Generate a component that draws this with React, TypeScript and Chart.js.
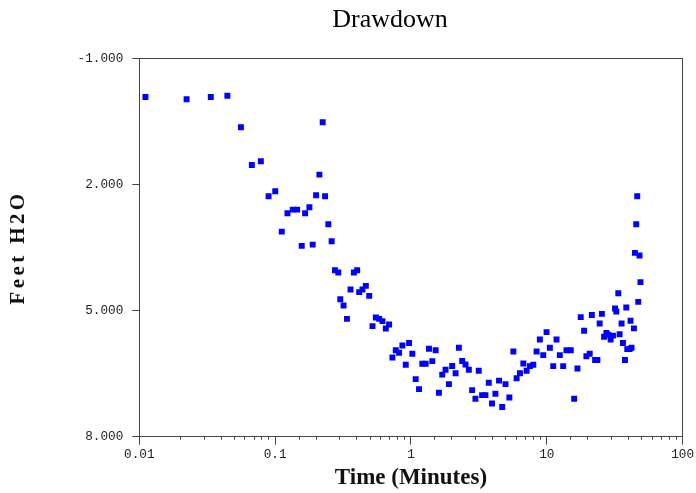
import React, { useEffect, useRef } from 'react';
import { Chart, registerables, LinearScale } from 'chart.js';

// ---- data ----
const chartTitle = 'Drawdown';
const xAxisTitle = 'Time (Minutes)';
const yAxisTitle = 'Feet H2O';

const xTickValues = [0.01, 0.1, 1, 10, 100];
const xTickLabels = ['0.01', '0.1', '1', '10', '100'];
const yTickValues = [-1, 2, 5, 8];
const yTickLabels = ['-1.000', '2.000', '5.000', '8.000'];

const timeMinutes = [
  0.0111, 0.0223, 0.0336, 0.0445, 0.056, 0.0674, 0.0785, 0.0895, 0.1002, 0.1119,
  0.1233, 0.1349, 0.1453, 0.157, 0.1663, 0.1788, 0.1891, 0.2003, 0.2118, 0.224,
  0.2333, 0.2466, 0.2608, 0.276, 0.2919, 0.302, 0.3192, 0.338, 0.3591, 0.38,
  0.4018, 0.4157, 0.4396, 0.4656, 0.4929, 0.5212, 0.5516, 0.5834, 0.617, 0.6531,
  0.6907, 0.7305, 0.7734, 0.818, 0.8651, 0.916, 0.9689, 1.024, 1.084, 1.147,
  1.212, 1.284, 1.358, 1.436, 1.52, 1.607, 1.7, 1.799, 1.904, 2.013,
  2.132, 2.254, 2.384, 2.523, 2.668, 2.821, 2.985, 3.156, 3.341, 3.537,
  3.741, 3.954, 4.188, 4.453, 4.698, 4.968, 5.305, 5.677, 5.999, 6.347,
  6.724, 7.109, 7.516, 7.961, 8.416, 8.897, 9.424, 9.966, 10.54, 11.16,
  11.8, 12.48, 13.21, 13.97, 15.03, 15.92, 16.83, 17.79, 18.84, 19.58,
  20.71, 21.48, 22.69, 23.59, 24.53, 25.46, 26.43, 27.48, 28.41, 29.53,
  30.73, 31.81, 32.51, 33.64, 34.39, 35.56, 36.39, 37.65, 38.5, 39.16,
  40.71, 41.4, 42.1, 43.85, 44.57, 45.59, 46.37, 47.17, 48.19, 48.98,
];

const drawdownFeet = [
  -0.08, -0.025, -0.08, -0.111, 0.64, 1.536, 1.448, 2.28, 2.161, 3.122,
  2.684, 2.599, 2.599, 3.462, 2.684, 2.542, 3.431, 2.256, 1.767, 0.521,
  2.28, 2.946, 3.35, 4.039, 4.096, 4.729, 4.881, 5.197, 4.5, 4.096,
  4.039, 4.562, 4.5, 4.413, 4.65, 5.37, 5.166, 5.197, 5.251, 5.427,
  5.332, 6.117, 5.946, 6.005, 5.832, 6.29, 5.772, 6.029, 6.63, 6.868,
  6.266, 6.266, 5.91, 6.202, 5.946, 6.956, 6.523, 6.409, 6.749, 6.319,
  6.492, 5.886, 6.2, 6.285, 6.409, 6.892, 7.098, 6.433, 7.011, 7.011,
  6.718, 7.212, 6.979, 6.666, 7.293, 6.749, 7.068, 5.974, 6.611, 6.492,
  6.259, 6.433, 6.321, 6.29, 5.974, 5.689, 6.06, 5.513, 5.886, 6.321,
  5.689, 6.06, 6.321, 5.946, 5.946, 7.098, 6.378, 5.156, 5.482, 6.088,
  6.029, 5.106, 6.176, 6.176, 5.309, 5.078, 5.625, 5.534, 5.577, 5.687,
  5.596, 4.952, 5.023, 4.586, 5.565, 5.309, 5.772, 6.176, 4.928, 5.917,
  5.917, 5.244, 5.886, 5.423, 3.628, 2.946, 2.28, 4.793, 3.692, 4.324,
];

// ---- styling ----
const W = 696;
const H = 493;
const TITLE_CENTER_X = 390;
const TITLE_BASELINE_Y = 27;
const AXIS_COLOR = '#444';
const TICK_FONT = { family: '"Liberation Mono", "Courier New", monospace', size: 12.7 };
const Y_TITLE_SPACING = '3.4px';

class SpacedTitleLinearScale extends LinearScale {
  static id = 'spacedTitleLinear';
  drawTitle() {
    const ctx = (this as any).ctx as CanvasRenderingContext2D & { letterSpacing?: string };
    const prev = ctx.letterSpacing;
    ctx.letterSpacing = Y_TITLE_SPACING;
    super.drawTitle();
    ctx.letterSpacing = prev ?? '0px';
  }
}

Chart.register(...registerables, SpacedTitleLinearScale as any);

const align = (v: number) => Math.round(v - 0.5) + 0.5;

const framePlugin = {
  id: 'plotFrame',
  beforeDatasetsDraw(chart: any) {
    const { ctx, chartArea } = chart;
    const l = align(chartArea.left);
    const r = align(chartArea.right);
    const t = align(chartArea.top);
    const b = align(chartArea.bottom);
    ctx.save();
    ctx.strokeStyle = AXIS_COLOR;
    ctx.lineWidth = 1;
    ctx.strokeRect(l, t, r - l, b - t);
    ctx.restore();
  },
};

const titlePlugin = {
  id: 'drawdownTitle',
  afterDraw(chart: any) {
    const ctx = chart.ctx;
    ctx.save();
    ctx.font = '26px "Liberation Serif", "Times New Roman", serif';
    ctx.fillStyle = '#000';
    ctx.textAlign = 'center';
    ctx.textBaseline = 'alphabetic';
    ctx.fillText(chartTitle, TITLE_CENTER_X, TITLE_BASELINE_Y);
    ctx.restore();
  },
};

export default function App() {
  const canvasRef = useRef<HTMLCanvasElement | null>(null);

  useEffect(() => {
    if (!canvasRef.current) return;
    const points = timeMinutes.map((t, i) => ({ x: t, y: drawdownFeet[i] }));
    const chart = new Chart(canvasRef.current, {
      type: 'scatter',
      data: {
        datasets: [
          {
            label: yAxisTitle,
            data: points,
            xAxisID: 'x',
            yAxisID: 'y',
            pointStyle: 'rect',
            pointRadius: 4.2,
            pointHoverRadius: 4.2,
            backgroundColor: '#0000ff',
            borderColor: '#0000ff',
            borderWidth: 0,
          },
        ],
      },
      options: {
        responsive: false,
        maintainAspectRatio: false,
        animation: false,
        events: [],
        layout: {
          autoPadding: false,
          padding: { left: 0, right: 11.7, top: 58.3, bottom: 0 },
        },
        plugins: {
          legend: { display: false },
          tooltip: { enabled: false },
          title: { display: false },
        },
        scales: {
          x: {
            type: 'logarithmic',
            position: 'bottom',
            min: 0.01,
            max: 100,
            weight: 1,
            afterBuildTicks: (s: any) => {
              s.ticks = xTickValues.map((v) => ({ value: v, major: true }));
            },
            afterFit: (s: any) => {
              s.height = 56.3;
            },
            grid: {
              display: true,
              drawOnChartArea: false,
              drawTicks: true,
              tickLength: 8,
              tickColor: AXIS_COLOR,
              tickWidth: 1,
            },
            border: { display: false },
            ticks: {
              font: TICK_FONT,
              color: '#222',
              padding: 2,
              maxRotation: 0,
              autoSkip: false,
              callback: (_v: any, i: number) => xTickLabels[i],
            },
            title: {
              display: true,
              text: xAxisTitle,
              color: '#111',
              font: { family: '"Liberation Serif", "Times New Roman", serif', size: 23, weight: 'bold' },
              padding: { top: 0, bottom: 1 },
            },
          },
          xMinor: {
            type: 'logarithmic',
            position: 'bottom',
            min: 0.01,
            max: 100,
            weight: 0,
            afterFit: (s: any) => {
              s.height = 0;
            },
            grid: {
              display: true,
              drawOnChartArea: false,
              drawTicks: true,
              tickLength: 3,
              tickColor: AXIS_COLOR,
              tickWidth: 1,
            },
            border: { display: false },
            ticks: { display: false },
          },
          y: {
            type: 'spacedTitleLinear' as any,
            position: 'left',
            reverse: true,
            min: -1,
            max: 8,
            afterBuildTicks: (s: any) => {
              s.ticks = yTickValues.map((v) => ({ value: v }));
            },
            afterFit: (s: any) => {
              s.width = 139.3;
            },
            grid: {
              display: true,
              drawOnChartArea: false,
              drawTicks: true,
              tickLength: 7,
              tickColor: AXIS_COLOR,
              tickWidth: 1,
            },
            border: { display: false },
            ticks: {
              font: TICK_FONT,
              color: '#222',
              padding: 9,
              autoSkip: false,
              callback: (_v: any, i: number) => yTickLabels[i],
            },
            title: {
              display: true,
              text: yAxisTitle,
              color: '#111',
              font: { family: '"Liberation Serif", "Times New Roman", serif', size: 21, weight: 'bold' },
              padding: { top: 5.5, bottom: 0 },
            },
          },
        },
      },
      plugins: [framePlugin, titlePlugin],
    } as any);
    return () => chart.destroy();
  }, []);

  return (
    <div style={{ position: 'fixed', left: 0, top: 0, width: W, height: H, background: '#fff' }}>
      <canvas ref={canvasRef} width={W} height={H} style={{ display: 'block' }} />
    </div>
  );
}
